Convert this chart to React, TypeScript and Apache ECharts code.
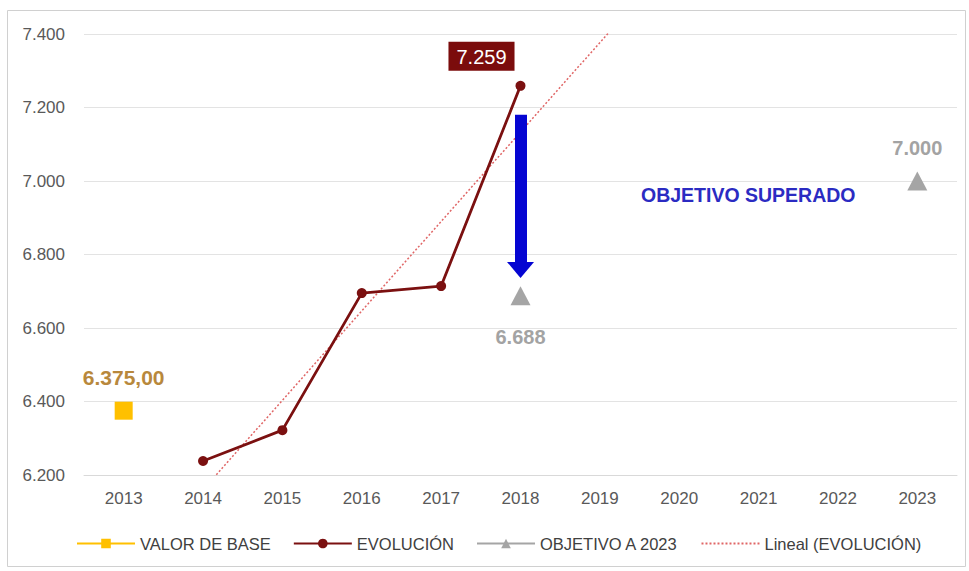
import React, { useEffect, useRef } from "react";
import * as echarts from "echarts";

const YEARS = ["2013", "2014", "2015", "2016", "2017", "2018", "2019", "2020", "2021", "2022", "2023"];
const BASE = [6375, null, null, null, null, null, null, null, null, null, null];
const EVOLUCION = [null, 6238, 6322, 6695, 6714, 7259, null, null, null, null, null];
const OBJETIVO = [null, null, null, null, null, 6688, null, null, null, null, 7000];
// Linear trend (endpoints of the dotted line)
const TREND = [null, 6160, null, null, null, null, null, 7620, null, null, null];
const ARROW = { year: "2018", from: 7180, to: 6758 };
const Y_TICKS = { min: 6200, max: 7400, interval: 200 };

const FONT = "'Liberation Sans', Arial, sans-serif";
const fmt = (v: number) => (v / 1000).toFixed(3);
const fmtBase = (v: number) => fmt(v) + ",00";

export default function App() {
  const ref = useRef<HTMLDivElement>(null);
  useEffect(() => {
    if (!ref.current) return;
    const chart = echarts.init(ref.current, null, { renderer: "svg" });
    chart.setOption({
      animation: false,
      backgroundColor: "#ffffff",
      textStyle: { fontFamily: FONT },
      grid: { left: 84, right: 12, top: 34, bottom: 96 },
      graphic: [
        {
          type: "rect",
          shape: { x: 7.5, y: 10.5, width: 958, height: 556 },
          style: { fill: "none", stroke: "#D0D0D0", lineWidth: 1 },
          silent: true,
        },
        {
          type: "text",
          left: 641,
          top: 185,
          style: {
            text: "OBJETIVO SUPERADO",
            fill: "#2B2BC2",
            font: `bold 19.5px ${FONT}`,
          },
        },
      ],
      legend: {
        top: 535,
        left: 76,
        padding: 0,
        itemWidth: 58,
        itemHeight: 12,
        itemGap: 22,
        textStyle: { color: "#404040", fontSize: 16.5, fontFamily: FONT },
        data: ["VALOR DE BASE", "EVOLUCIÓN", "OBJETIVO A 2023", "Lineal (EVOLUCIÓN)"],
      },
      xAxis: {
        type: "category",
        data: YEARS,
        axisLine: { lineStyle: { color: "#D9D9D9" } },
        axisTick: { show: false },
        axisLabel: { color: "#595959", fontSize: 17, margin: 15, fontFamily: FONT },
      },
      yAxis: {
        type: "value",
        min: Y_TICKS.min,
        max: Y_TICKS.max,
        interval: Y_TICKS.interval,
        axisLine: { show: false },
        axisTick: { show: false },
        splitLine: { lineStyle: { color: "#E3E3E3" } },
        axisLabel: { color: "#595959", fontSize: 17, margin: 19, formatter: fmt, fontFamily: FONT },
      },
      series: [
        {
          name: "VALOR DE BASE",
          type: "line",
          data: BASE.map((v) =>
            v == null
              ? null
              : {
                  value: v,
                  label: {
                    show: true,
                    position: "top",
                    distance: 14,
                    formatter: () => fmtBase(v),
                    color: "#B8883C",
                    fontSize: 21,
                    fontWeight: "bold",
                    fontFamily: FONT,
                  },
                }
          ),
          symbol: "rect",
          symbolSize: 18,
          itemStyle: { color: "#FFC000" },
          lineStyle: { color: "#FFC000", width: 3.5 },
          z: 3,
        },
        {
          name: "EVOLUCIÓN",
          type: "line",
          data: EVOLUCION.map((v, i) =>
            v == null
              ? null
              : i === 5
              ? {
                  value: v,
                  label: {
                    show: true,
                    position: "top",
                    distance: 5,
                    offset: [-39, -5],
                    formatter: () => fmt(v),
                    color: "#ffffff",
                    backgroundColor: "#7B0C0C",
                    padding: [5, 8, 4, 8],
                    fontSize: 20,
                    fontFamily: FONT,
                  },
                }
              : v
          ),
          symbol: "circle",
          symbolSize: 10,
          itemStyle: { color: "#7B1010" },
          lineStyle: { color: "#7B1010", width: 2.8 },
          z: 4,
        },
        {
          name: "OBJETIVO A 2023",
          type: "line",
          data: OBJETIVO.map((v, i) =>
            v == null
              ? null
              : {
                  value: v,
                  label: {
                    show: true,
                    position: i === 5 ? "bottom" : "top",
                    distance: i === 5 ? 22 : 14,
                    formatter: () => fmt(v),
                    color: "#A3A3A3",
                    fontSize: 20,
                    fontWeight: "bold",
                    fontFamily: FONT,
                  },
                }
          ),
          symbol: "triangle",
          symbolSize: [20, 19],
          itemStyle: { color: "#A5A5A5" },
          lineStyle: { color: "#A5A5A5", width: 3.5 },
          z: 3,
          markLine: {
            silent: true,
            symbol: ["none", "triangle"],
            symbolSize: [27, 16],
            label: { show: false },
            lineStyle: { color: "#0505D2", width: 12, type: "solid" },
            data: [[{ coord: [ARROW.year, ARROW.from] }, { coord: [ARROW.year, ARROW.to] }]],
          },
        },
        {
          name: "Lineal (EVOLUCIÓN)",
          type: "line",
          data: TREND,
          connectNulls: true,
          showSymbol: false,
          symbol: "circle",
          itemStyle: { color: "rgba(0,0,0,0)" },
          lineStyle: { color: "#E06666", width: 1.5, type: [2, 2] },
          clip: true,
          z: 2,
        },
      ],
    });
    return () => chart.dispose();
  }, []);
  return (
    <div
      ref={ref}
      style={{ position: "absolute", left: 0, top: 0, width: 969, height: 571 }}
    />
  );
}
